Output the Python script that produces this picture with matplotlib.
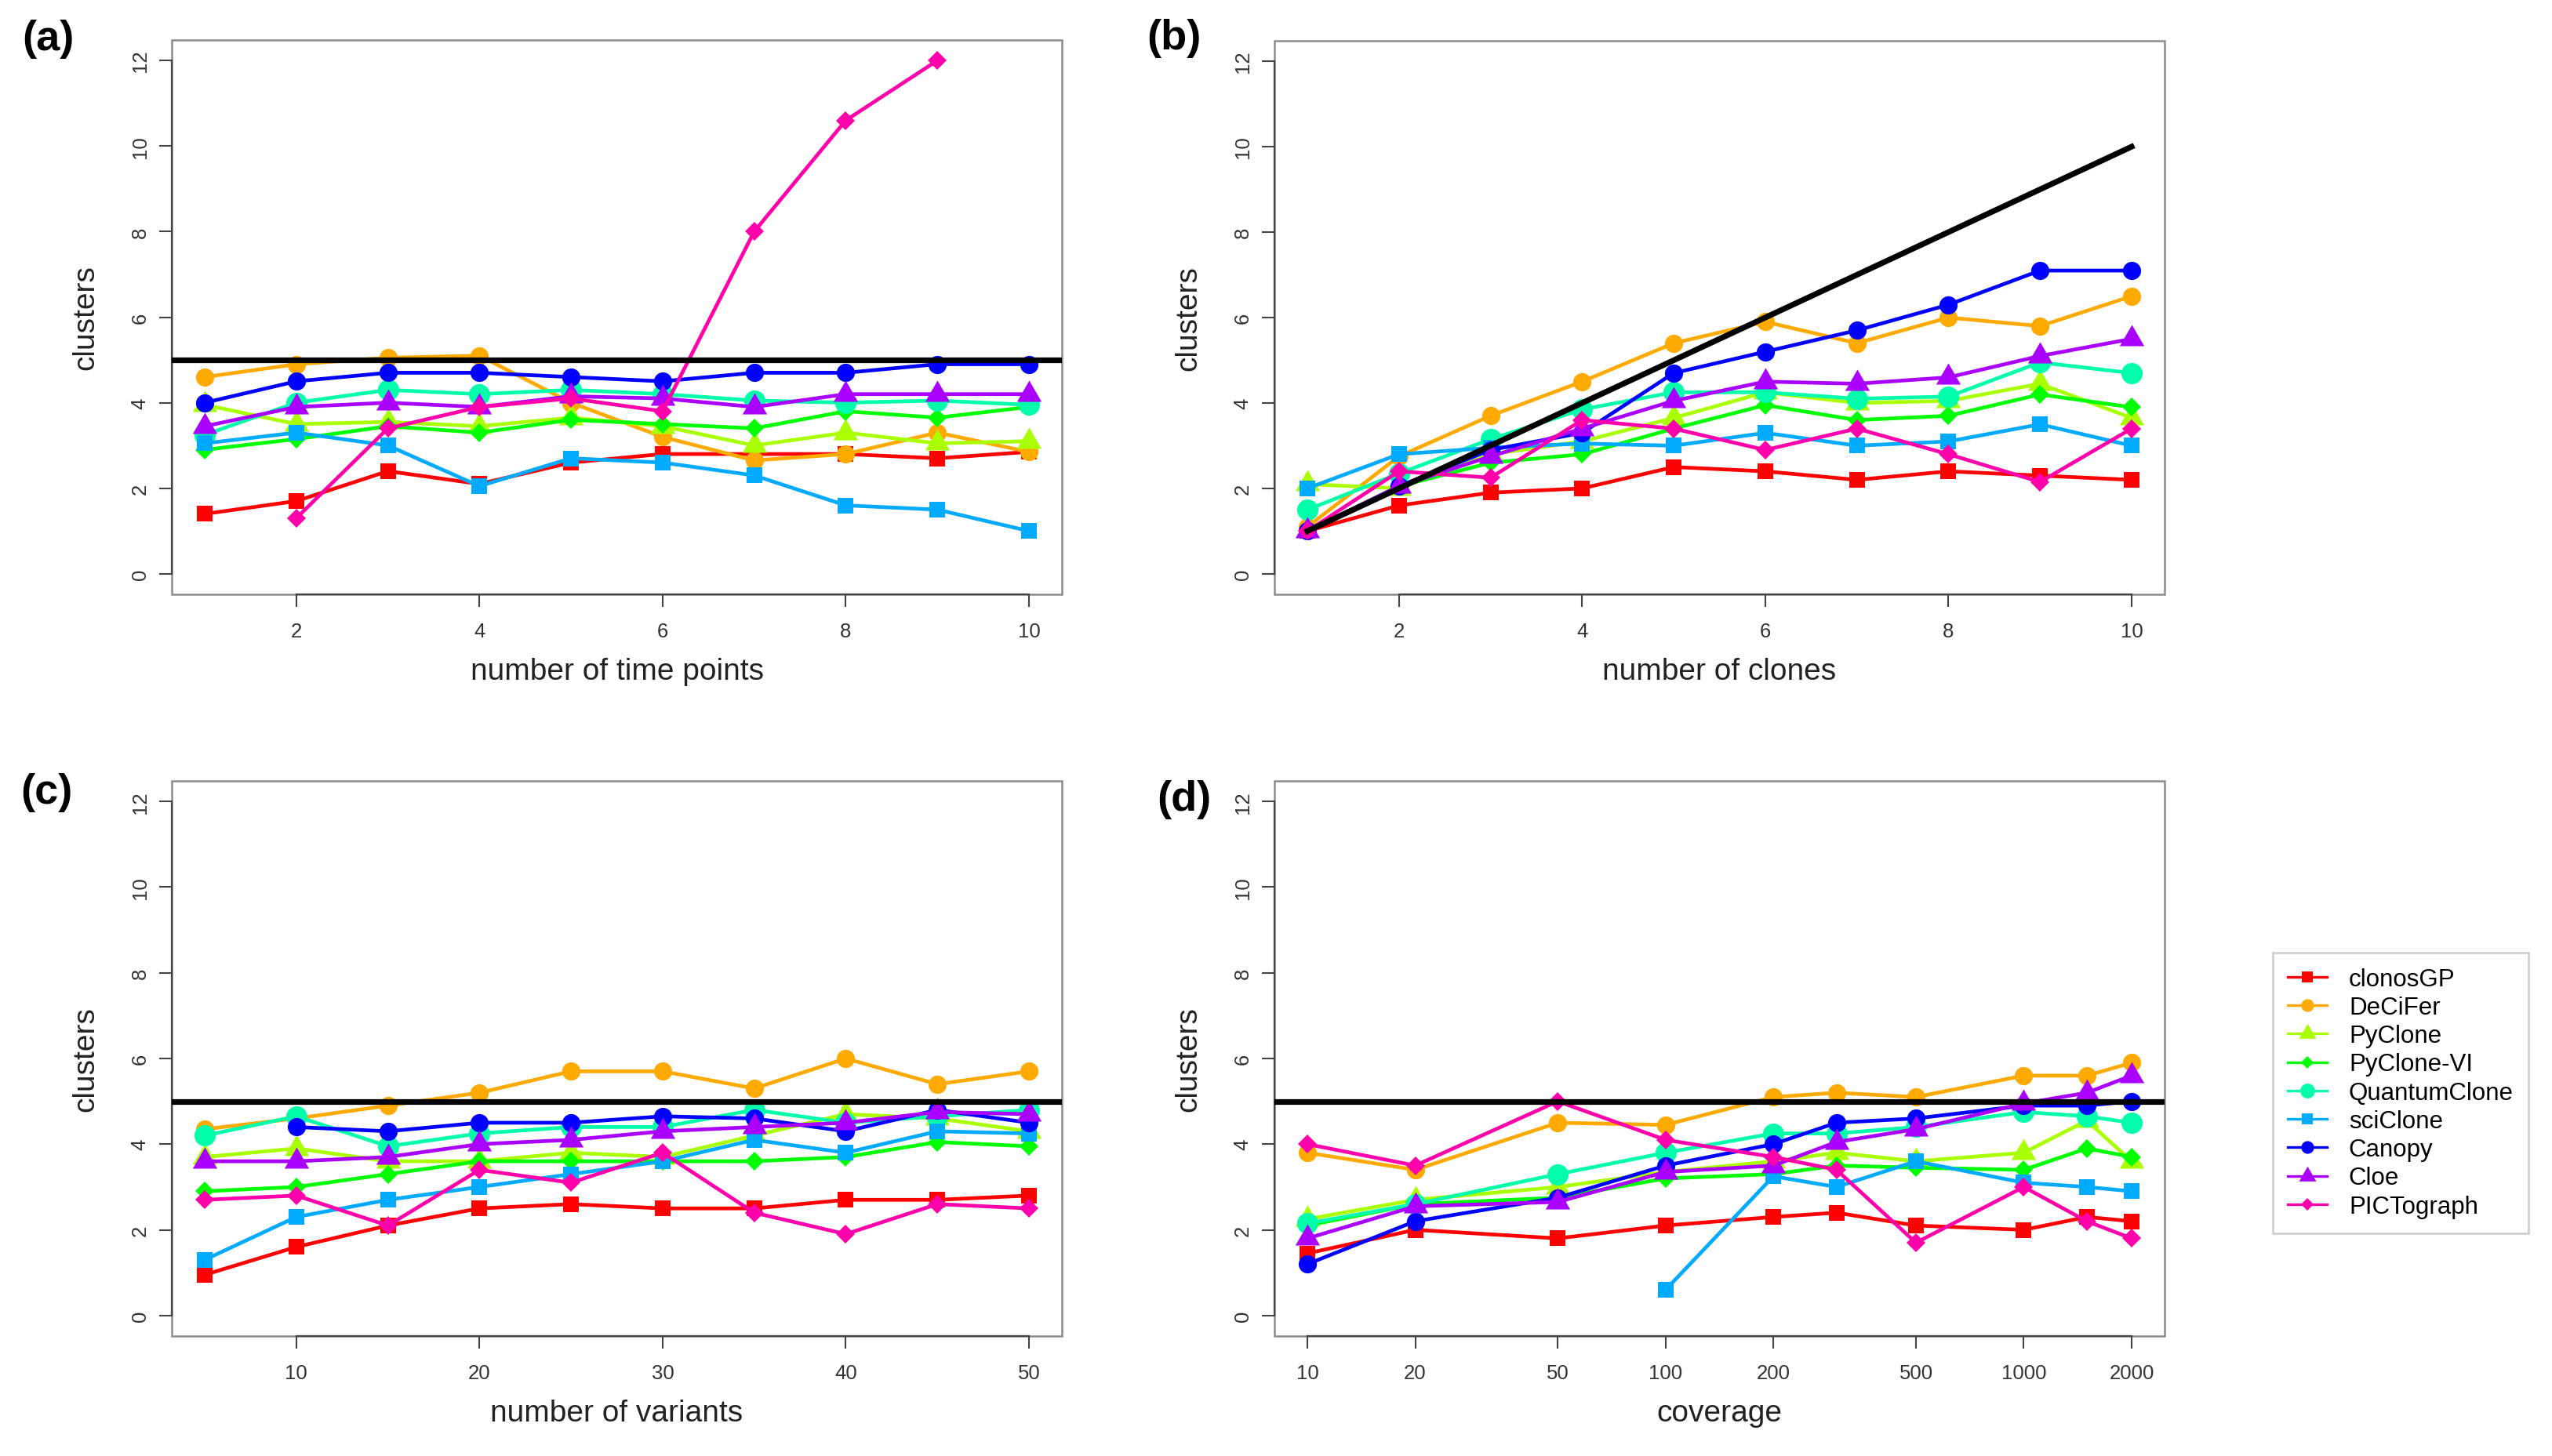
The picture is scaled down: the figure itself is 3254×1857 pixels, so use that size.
import numpy as np
import matplotlib
matplotlib.use("Agg")
import matplotlib.pyplot as plt
from matplotlib.patches import Rectangle
from matplotlib.ticker import FixedLocator, FixedFormatter, NullLocator

nan = np.nan

# ---------------- datos ----------------
methods = ["clonosGP", "DeCiFer", "PyClone", "PyClone-VI", "QuantumClone",
           "sciClone", "Canopy", "Cloe", "PICTograph"]

# (a) number of time points
time_points = [1, 2, 3, 4, 5, 6, 7, 8, 9, 10]
a_vals = [
    [1.4, 1.7, 2.4, 2.1, 2.6, 2.8, 2.8, 2.8, 2.7, 2.85],
    [4.6, 4.9, 5.05, 5.1, 4.0, 3.2, 2.65, 2.8, 3.3, 2.85],
    [3.95, 3.5, 3.55, 3.45, 3.65, 3.45, 3.0, 3.3, 3.05, 3.1],
    [2.9, 3.15, 3.45, 3.3, 3.6, 3.5, 3.4, 3.8, 3.65, 3.9],
    [3.25, 4.0, 4.3, 4.2, 4.3, 4.2, 4.05, 4.0, 4.05, 3.95],
    [3.05, 3.3, 3.0, 2.05, 2.7, 2.6, 2.3, 1.6, 1.5, 1.0],
    [4.0, 4.5, 4.7, 4.7, 4.6, 4.5, 4.7, 4.7, 4.9, 4.9],
    [3.45, 3.9, 4.0, 3.9, 4.15, 4.1, 3.9, 4.2, 4.2, 4.2],
    [nan, 1.3, 3.4, 3.9, 4.1, 3.8, 8.0, 10.6, 12.0, nan],
]

# (b) number of clones
n_clones = [1, 2, 3, 4, 5, 6, 7, 8, 9, 10]
b_vals = [
    [1.0, 1.6, 1.9, 2.0, 2.5, 2.4, 2.2, 2.4, 2.3, 2.2],
    [1.1, 2.75, 3.7, 4.5, 5.4, 5.9, 5.4, 6.0, 5.8, 6.5],
    [2.1, 2.0, 2.8, 3.1, 3.65, 4.25, 4.0, 4.05, 4.45, 3.65],
    [1.0, 2.05, 2.6, 2.8, 3.4, 3.95, 3.6, 3.7, 4.2, 3.9],
    [1.5, 2.35, 3.15, 3.85, 4.25, 4.25, 4.1, 4.15, 4.95, 4.7],
    [2.0, 2.8, 2.95, 3.05, 3.0, 3.3, 3.0, 3.1, 3.5, 3.0],
    [1.0, 2.05, 2.9, 3.3, 4.7, 5.2, 5.7, 6.3, 7.1, 7.1],
    [1.0, 2.05, 2.75, 3.4, 4.05, 4.5, 4.45, 4.6, 5.1, 5.5],
    [1.0, 2.4, 2.25, 3.6, 3.4, 2.9, 3.4, 2.8, 2.15, 3.4],
]

# (c) number of variants
n_variants = [5, 10, 15, 20, 25, 30, 35, 40, 45, 50]
c_vals = [
    [0.95, 1.6, 2.1, 2.5, 2.6, 2.5, 2.5, 2.7, 2.7, 2.8],
    [4.35, 4.6, 4.9, 5.2, 5.7, 5.7, 5.3, 6.0, 5.4, 5.7],
    [3.7, 3.9, 3.6, 3.6, 3.8, 3.7, 4.2, 4.7, 4.6, 4.3],
    [2.9, 3.0, 3.3, 3.6, 3.6, 3.6, 3.6, 3.7, 4.05, 3.95],
    [4.2, 4.65, 3.95, 4.25, 4.4, 4.4, 4.8, 4.5, 4.65, 4.8],
    [1.3, 2.3, 2.7, 3.0, 3.3, 3.6, 4.1, 3.8, 4.3, 4.25],
    [nan, 4.4, 4.3, 4.5, 4.5, 4.65, 4.6, 4.3, 4.8, 4.5],
    [3.6, 3.6, 3.7, 4.0, 4.1, 4.3, 4.4, 4.5, 4.75, 4.7],
    [2.7, 2.8, 2.1, 3.4, 3.1, 3.8, 2.4, 1.9, 2.6, 2.5],
]

# (d) coverage
coverage = [10, 20, 50, 100, 200, 300, 500, 1000, 1500, 2000]
coverage_ticks = [10, 20, 50, 100, 200, 500, 1000, 2000]
d_vals = [
    [1.45, 2.0, 1.8, 2.1, 2.3, 2.4, 2.1, 2.0, 2.3, 2.2],
    [3.8, 3.4, 4.5, 4.45, 5.1, 5.2, 5.1, 5.6, 5.6, 5.9],
    [2.25, 2.7, 3.0, 3.35, 3.6, 3.8, 3.6, 3.8, 4.55, 3.6],
    [2.1, 2.6, 2.75, 3.2, 3.3, 3.5, 3.45, 3.4, 3.9, 3.7],
    [2.15, 2.6, 3.3, 3.8, 4.25, 4.25, 4.4, 4.75, 4.65, 4.5],
    [nan, nan, nan, 0.6, 3.25, 3.0, 3.6, 3.1, 3.0, 2.9],
    [1.2, 2.2, 2.75, 3.5, 4.0, 4.5, 4.6, 4.9, 4.9, 5.0],
    [1.8, 2.55, 2.65, 3.35, 3.5, 4.05, 4.35, 4.95, 5.2, 5.6],
    [4.0, 3.5, 5.0, 4.1, 3.7, 3.4, 1.7, 3.0, 2.2, 1.8],
]

true_clusters = 5

# ---------------- estilo ----------------
# rainbow(9) de R
colors = ["#FF0000", "#FFAA00", "#AAFF00", "#00FF00", "#00FFAA",
          "#00AAFF", "#0000FF", "#AA00FF", "#FF00AA"]
tri = [(0, 1), (-0.866, -0.5), (0.866, -0.5)]
markers = ["s", "o", tri, "D", "o", "s", "o", tri, "D"]
msizes = [14.8, 16.7, 26, 11.8, 19.5, 14.8, 16.7, 26, 11.8]

plt.rcParams['font.family'] = ['Liberation Sans', 'DejaVu Sans']

W, H = 3254, 1858
fig = plt.figure(figsize=(W / 100, H / 100), dpi=100)


def px_axes(left, top, right, bottom):
    return fig.add_axes([left / W, 1 - bottom / H, (right - left) / W, (bottom - top) / H])


def makePanel(ax, xs, vals, xlabel, xticks, xlim, logx=False):
    for i, ys in enumerate(vals):
        ax.plot(xs, ys, color=colors[i], lw=3.4, marker=markers[i],
                ms=msizes[i], mew=0, label=methods[i], zorder=3)
    if logx:
        ax.set_xscale("log")
    ax.set_xlim(*xlim)
    ax.set_ylim(-0.48, 12.48)
    ax.xaxis.set_major_locator(FixedLocator(xticks))
    ax.xaxis.set_major_formatter(FixedFormatter([str(t) for t in xticks]))
    ax.xaxis.set_minor_locator(NullLocator())
    ax.set_yticks([0, 2, 4, 6, 8, 10, 12])
    # caja gris + ejes tipo R
    for s in ["top", "right"]:
        ax.spines[s].set_visible(False)
    ax.spines["left"].set_bounds(0, 12)
    ax.spines["bottom"].set_bounds(xticks[0], xticks[-1])
    for s in ["left", "bottom"]:
        ax.spines[s].set_color("#444444")
        ax.spines[s].set_linewidth(1.6)
    ax.add_patch(Rectangle((0, 0), 1, 1, transform=ax.transAxes, fill=False,
                           edgecolor="#8c8c8c", lw=1.8, clip_on=False, zorder=1))
    ax.tick_params(axis="both", length=11.5, width=1.5, color="#444444",
                   labelsize=18.5, labelcolor="#333333")
    ax.tick_params(axis="x", pad=14)
    ax.tick_params(axis="y", pad=9, labelrotation=90)
    for lab in ax.get_yticklabels():
        lab.set_va("center")
    ax.set_xlabel(xlabel, fontsize=28, color="#222222", labelpad=15)
    ax.set_ylabel("clusters", fontsize=28, color="#222222", labelpad=28)


axA = px_axes(219, 52, 1354, 759)
axB = px_axes(1625, 53, 2760, 759)
axC = px_axes(219, 997, 1354, 1705)
axD = px_axes(1625, 997, 2760, 1705)

makePanel(axA, time_points, a_vals, "number of time points", [2, 4, 6, 8, 10], (0.64, 10.36))
axA.axhline(true_clusters, color="black", lw=5.2, zorder=4)

makePanel(axB, n_clones, b_vals, "number of clones", [2, 4, 6, 8, 10], (0.64, 10.36))
axB.plot(n_clones, n_clones, color="black", lw=5.2, zorder=4)

makePanel(axC, n_variants, c_vals, "number of variants", [10, 20, 30, 40, 50], (3.2, 51.8))
axC.axhline(true_clusters, color="black", lw=5.2, zorder=4)

makePanel(axD, coverage, d_vals, "coverage", coverage_ticks, (8.09, 2472), logx=True)
axD.axhline(true_clusters, color="black", lw=5.2, zorder=4)

# etiquetas de panel
for txt, x, y in [("(a)", 28, 50), ("(b)", 1462, 49), ("(c)", 26, 1011), ("(d)", 1475, 1020)]:
    fig.text(x / W, 1 - y / H, txt, fontsize=39, fontweight="bold",
             ha="left", va="center", color="black")

# leyenda
handles, labels = axA.get_legend_handles_labels()
leg = fig.legend(handles, labels, loc="upper left",
                 bbox_to_anchor=(2898 / W, 1 - 1216 / H), borderaxespad=0,
                 fontsize=22.5, fancybox=False, edgecolor="#c4c4c4",
                 borderpad=0.6, labelspacing=0.2, handlelength=1.6,
                 handletextpad=0.9, markerscale=0.7)
leg.get_frame().set_linewidth(2)
for line in leg.get_lines():
    line.set_linewidth(2.4)

plt.savefig("out.png", dpi=100)
